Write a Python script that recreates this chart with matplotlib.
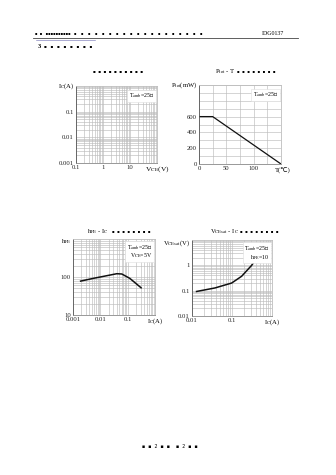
import matplotlib
matplotlib.use("Agg")
import matplotlib.pyplot as plt
from matplotlib.ticker import LogLocator, MultipleLocator, NullFormatter, FixedLocator

plt.rcParams['font.family'] = ['Liberation Serif', 'DejaVu Sans']
plt.rcParams['mathtext.fontset'] = 'stix'

W, H = 336, 475
fig = plt.figure(figsize=(W / 100, H / 100), dpi=100)

# ---- data ----
temp_c = [0, 25, 150]
ptot_mw = [600, 600, 0]

hfe_ic = [0.0019, 0.0055, 0.017, 0.040, 0.061, 0.12, 0.31]
hfe_val = [78, 92, 108, 122, 120, 92, 52]

vce_ic = [0.013, 0.0376, 0.098, 0.174, 0.31, 0.5]
vce_val = [0.093, 0.128, 0.20, 0.37, 1.0, 2.9]

p1_xticks = [0.1, 1, 10]
p1_xlabels = ['0.1', '1', '10']
p1_yticks = [0.001, 0.01, 0.1]
p1_ylabels = ['0.001', '0.01', '0.1']
p2_xticks = [0, 50, 100]
p2_yticks = [0, 200, 400, 600]
p3_xticks = [0.001, 0.01, 0.1]
p3_xlabels = ['0.001', '0.01', '0.1']
p3_yticks = [10, 100]
p3_ylabels = ['10', '100']
p4_xticks = [0.01, 0.1]
p4_xlabels = ['0.01', '0.1']
p4_yticks = [0.01, 0.1, 1]
p4_ylabels = ['0.01', '0.1', '1']

FS = 4.8
GRID = '#bdbdbd'
DOT = '\u25aa'


def px_axes(x0, y0, x1, y1):
    return fig.add_axes([x0 / W, 1 - y1 / H, (x1 - x0) / W, (y1 - y0) / H])


def style(ax):
    for s in ax.spines.values():
        s.set_color(GRID)
        s.set_linewidth(0.6)
    ax.spines['left'].set_color('#555555')
    ax.spines['bottom'].set_color('#888888')
    ax.tick_params(which='both', length=0, labelsize=FS, pad=1.5, colors='#222222')


def fig_text(x, y, s, **kw):
    kw.setdefault('fontsize', FS)
    fig.text(x / W, 1 - y / H, s, **kw)


def box(ax, lines, x, y):
    ax.text(x, y, '\n'.join(lines), transform=ax.transAxes, fontsize=4.2,
            ha='right', va='top', linespacing=1.0,
            bbox=dict(boxstyle='square,pad=0.3', fc='white', ec='#dddddd', lw=0.4))


def dots(n, sep='  '):
    return sep.join([DOT] * n)


# ---- header ----
fig.add_artist(plt.Line2D([33 / W, 298 / W], [1 - 38 / H, 1 - 38 / H], color='#444444', lw=0.6))
fig.add_artist(plt.Line2D([36 / W, 95 / W], [1 - 39.5 / H, 1 - 39.5 / H], color='#6a6ab0', lw=0.4))
fig_text(35, 35.8, dots(2) + '   ' + DOT * 10 + '   ' + dots(19, '    '), fontsize=2.6, va='bottom',
         family='DejaVu Sans')
fig_text(262, 35.8, 'IDG0137', fontsize=4.2, va='bottom')
fig_text(38, 47, '3', fontsize=4.5, va='center', fontweight='bold')
fig_text(44, 47, dots(8, '   '), fontsize=3.0, va='center', family='DejaVu Sans')

# ---- plot 1 ----
ax1 = px_axes(76, 86, 157, 163)
ax1.set_xscale('log'); ax1.set_yscale('log')
ax1.set_xlim(0.1, 100); ax1.set_ylim(0.001, 1)
ax1.xaxis.set_major_locator(FixedLocator(p1_xticks))
ax1.set_xticklabels(p1_xlabels)
ax1.yaxis.set_major_locator(FixedLocator(p1_yticks))
ax1.set_yticklabels(p1_ylabels)
ax1.xaxis.set_minor_locator(LogLocator(subs=range(2, 10)))
ax1.yaxis.set_minor_locator(LogLocator(subs=range(2, 10)))
ax1.xaxis.set_minor_formatter(NullFormatter()); ax1.yaxis.set_minor_formatter(NullFormatter())
ax1.grid(which='both', color=GRID, lw=0.45)
style(ax1)
box(ax1, [r'T$_{\rm amb}$=25℃'], 0.97, 0.93)
ax1.text(-0.02, 1.0, r'I$_{\rm C}$(A)', transform=ax1.transAxes, fontsize=FS, ha='right', va='center')
ax1.text(1.0, -0.075, r'V$_{\rm CE}$(V)', transform=ax1.transAxes, fontsize=FS + 0.6, ha='center', va='center')
fig_text(118, 72, dots(10), fontsize=3.0, ha='center', va='center', family='DejaVu Sans')

# ---- plot 2 ----
ax2 = px_axes(199, 85, 281, 164)
ax2.plot(temp_c, ptot_mw, color='#111111', lw=0.9)
ax2.set_xlim(0, 150); ax2.set_ylim(0, 1000)
ax2.xaxis.set_major_locator(FixedLocator(p2_xticks))
ax2.yaxis.set_major_locator(FixedLocator(p2_yticks))
ax2.xaxis.set_minor_locator(MultipleLocator(25))
ax2.yaxis.set_minor_locator(MultipleLocator(100))
ax2.grid(which='both', color=GRID, lw=0.45)
style(ax2)
box(ax2, [r'T$_{\rm amb}$=25℃'], 0.97, 0.93)
ax2.text(-0.02, 1.0, r'P$_{\rm tot}$(mW)', transform=ax2.transAxes, fontsize=FS, ha='right', va='center')
ax2.text(1.02, -0.075, 'T(℃)', transform=ax2.transAxes, fontsize=FS, ha='center', va='center')
fig_text(225, 72, r'P$_{\rm tot}$ - T', fontsize=FS, ha='center', va='center')
fig_text(237, 72, dots(8), fontsize=2.8, ha='left', va='center', family='DejaVu Sans')

# ---- plot 3 ----
ax3 = px_axes(73, 239, 155, 315)
ax3.plot(hfe_ic, hfe_val, color='#111111', lw=1.1)
ax3.set_xscale('log'); ax3.set_yscale('log')
ax3.set_xlim(0.001, 1); ax3.set_ylim(10, 1000)
ax3.xaxis.set_major_locator(FixedLocator(p3_xticks))
ax3.set_xticklabels(p3_xlabels)
ax3.yaxis.set_major_locator(FixedLocator(p3_yticks))
ax3.set_yticklabels(p3_ylabels)
ax3.xaxis.set_minor_locator(LogLocator(subs=range(2, 10)))
ax3.yaxis.set_minor_locator(LogLocator(subs=range(2, 10)))
ax3.xaxis.set_minor_formatter(NullFormatter()); ax3.yaxis.set_minor_formatter(NullFormatter())
ax3.grid(which='both', color=GRID, lw=0.45)
style(ax3)
box(ax3, [r'T$_{\rm amb}$=25℃', r'V$_{\rm CE}$=5V'], 0.97, 0.95)
ax3.text(-0.02, 0.97, r'h$_{\rm FE}$', transform=ax3.transAxes, fontsize=FS, ha='right', va='center')
ax3.text(1.0, -0.075, r'I$_{\rm C}$(A)', transform=ax3.transAxes, fontsize=FS, ha='center', va='center')
fig_text(98, 232, r'h$_{\rm FE}$ - I$_{\rm C}$', fontsize=FS, ha='center', va='center')
fig_text(112, 232, dots(8), fontsize=2.8, ha='left', va='center', family='DejaVu Sans')

# ---- plot 4 ----
ax4 = px_axes(192, 240, 272, 316)
ax4.plot(vce_ic, vce_val, color='#111111', lw=1.1)
ax4.set_xscale('log'); ax4.set_yscale('log')
ax4.set_xlim(0.01, 1); ax4.set_ylim(0.01, 10)
ax4.xaxis.set_major_locator(FixedLocator(p4_xticks))
ax4.set_xticklabels(p4_xlabels)
ax4.yaxis.set_major_locator(FixedLocator(p4_yticks))
ax4.set_yticklabels(p4_ylabels)
ax4.xaxis.set_minor_locator(LogLocator(subs=range(2, 10)))
ax4.yaxis.set_minor_locator(LogLocator(subs=range(2, 10)))
ax4.xaxis.set_minor_formatter(NullFormatter()); ax4.yaxis.set_minor_formatter(NullFormatter())
ax4.grid(which='both', color=GRID, lw=0.45)
style(ax4)
box(ax4, [r'T$_{\rm amb}$=25℃', r'h$_{\rm FE}$=10'], 0.97, 0.95)
ax4.text(-0.02, 0.96, r'V$_{\rm CEsat}$(V)', transform=ax4.transAxes, fontsize=FS, ha='right', va='center')
ax4.text(1.0, -0.075, r'I$_{\rm C}$(A)', transform=ax4.transAxes, fontsize=FS, ha='center', va='center')
fig_text(224, 232, r'V$_{\rm CEsat}$ - I$_{\rm C}$', fontsize=FS, ha='center', va='center')
fig_text(240, 232, dots(8), fontsize=2.8, ha='left', va='center', family='DejaVu Sans')

# ---- footer ----
fig_text(170, 446, DOT + '  ' + DOT + '  2  ' + DOT + '  ' + DOT + '    ' + DOT + '  2  ' + DOT + '  ' + DOT,
         fontsize=3.4, ha='center', va='center', family=['DejaVu Sans'])

fig.savefig('out.png', dpi=100)
